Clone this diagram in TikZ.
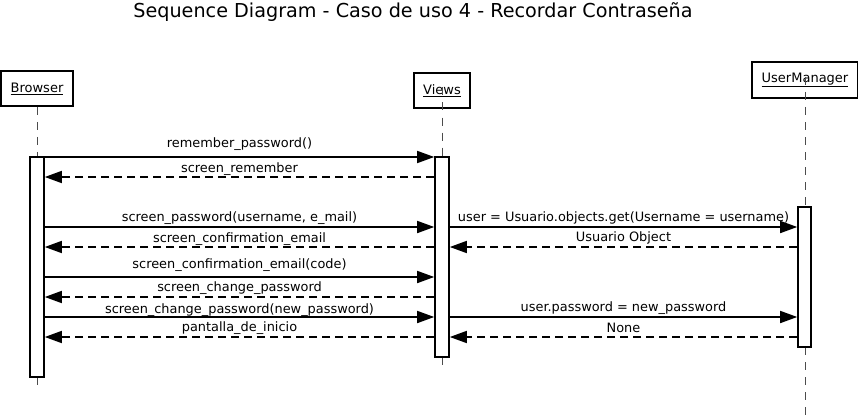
\documentclass[tikz,border=0pt]{standalone}
\usepackage{fontspec}
\setmainfont{DejaVu Sans}
\usetikzlibrary{arrows.meta,calc}

\begin{document}
\begin{tikzpicture}[x=1pt,y=-1pt,
  obj/.style={draw,fill=white,line width=1.8pt,inner sep=0pt,font=\fontsize{13}{15}\selectfont},
  act/.style={draw,fill=white,line width=1.6pt,minimum width=14pt,inner sep=0pt},
  life/.style={dash pattern=on 8pt off 7pt,line width=1pt,black!70},
  call/.style={-{Triangle[length=17pt,width=12pt]},line width=1.6pt},
  ret/.style={call,dash pattern=on 8pt off 5pt},
  msg/.style={font=\fontsize{12.9}{15}\selectfont,inner sep=0pt}]
  \useasboundingbox (0,0) rectangle (858,417);

  \node[font=\fontsize{19.2}{22}\selectfont] (title) at (413,12) {Sequence Diagram - Caso de uso 4 - Recordar Contraseña};

  \node[obj,minimum width=72pt,minimum height=35pt]  (browser) at (37,88.5)  {\underline{Browser}};
  \node[obj,minimum width=56pt,minimum height=35pt]  (views)   at (442,90.5) {\underline{Views}};
  \node[obj,minimum width=106pt,minimum height=36pt] (um)      at (805,80)   {\underline{UserManager}};

  \coordinate (bend) at (37,385);
  \coordinate (vend) at (442,365);
  \coordinate (uend) at (805,417);
  \draw[life] (browser.south) -- (bend);
  \draw[life] ($(views.center)+(0,-3)$) -- (vend);
  \draw[life] ($(um.center)+(0,-3)$) -- (uend);

  \node[act,minimum height=220pt] (bact) at (37,267)  {};
  \node[act,minimum height=200pt] (vact) at (442,257) {};
  \node[act,minimum height=140pt,minimum width=13pt] (uact) at (804.5,277) {};

  % message rows
  \coordinate (r1) at (0,157);
  \coordinate (r2) at (0,177);
  \coordinate (r3) at (0,227);
  \coordinate (r4) at (0,247);
  \coordinate (r5) at (0,277);
  \coordinate (r6) at (0,297);
  \coordinate (r7) at (0,317);
  \coordinate (r8) at (0,337);

  \draw[call] (bact.east |- r1) -- node[msg,yshift=13pt] {remember\_password()} (vact.west |- r1);
  \draw[ret]  (vact.west |- r2) -- node[msg,yshift=8pt]  {screen\_remember} (bact.east |- r2);
  \draw[call] (bact.east |- r3) -- node[msg,yshift=9pt]  {screen\_password(username, e\_mail)} (vact.west |- r3);
  \draw[call] (vact.east |- r3) -- node[msg,yshift=9pt]  {user = Usuario.objects.get(Username = username)} (uact.west |- r3);
  \draw[ret]  (uact.west |- r4) -- node[msg,yshift=9pt]  {Usuario Object} (vact.east |- r4);
  \draw[ret]  (vact.west |- r4) -- node[msg,yshift=8pt]  {screen\_confirmation\_email} (bact.east |- r4);
  \draw[call] (bact.east |- r5) -- node[msg,yshift=12pt] {screen\_confirmation\_email(code)} (vact.west |- r5);
  \draw[ret]  (vact.west |- r6) -- node[msg,yshift=9pt]  {screen\_change\_password} (bact.east |- r6);
  \draw[call] (bact.east |- r7) -- node[msg,yshift=7pt]  {screen\_change\_password(new\_password)} (vact.west |- r7);
  \draw[call] (vact.east |- r7) -- node[msg,yshift=9pt]  {user.password = new\_password} (uact.west |- r7);
  \draw[ret]  (vact.west |- r8) -- node[msg,yshift=9pt]  {pantalla\_de\_inicio} (bact.east |- r8);
  \draw[ret]  (uact.west |- r8) -- node[msg,yshift=9pt]  {None} (vact.east |- r8);
\end{tikzpicture}
\end{document}
